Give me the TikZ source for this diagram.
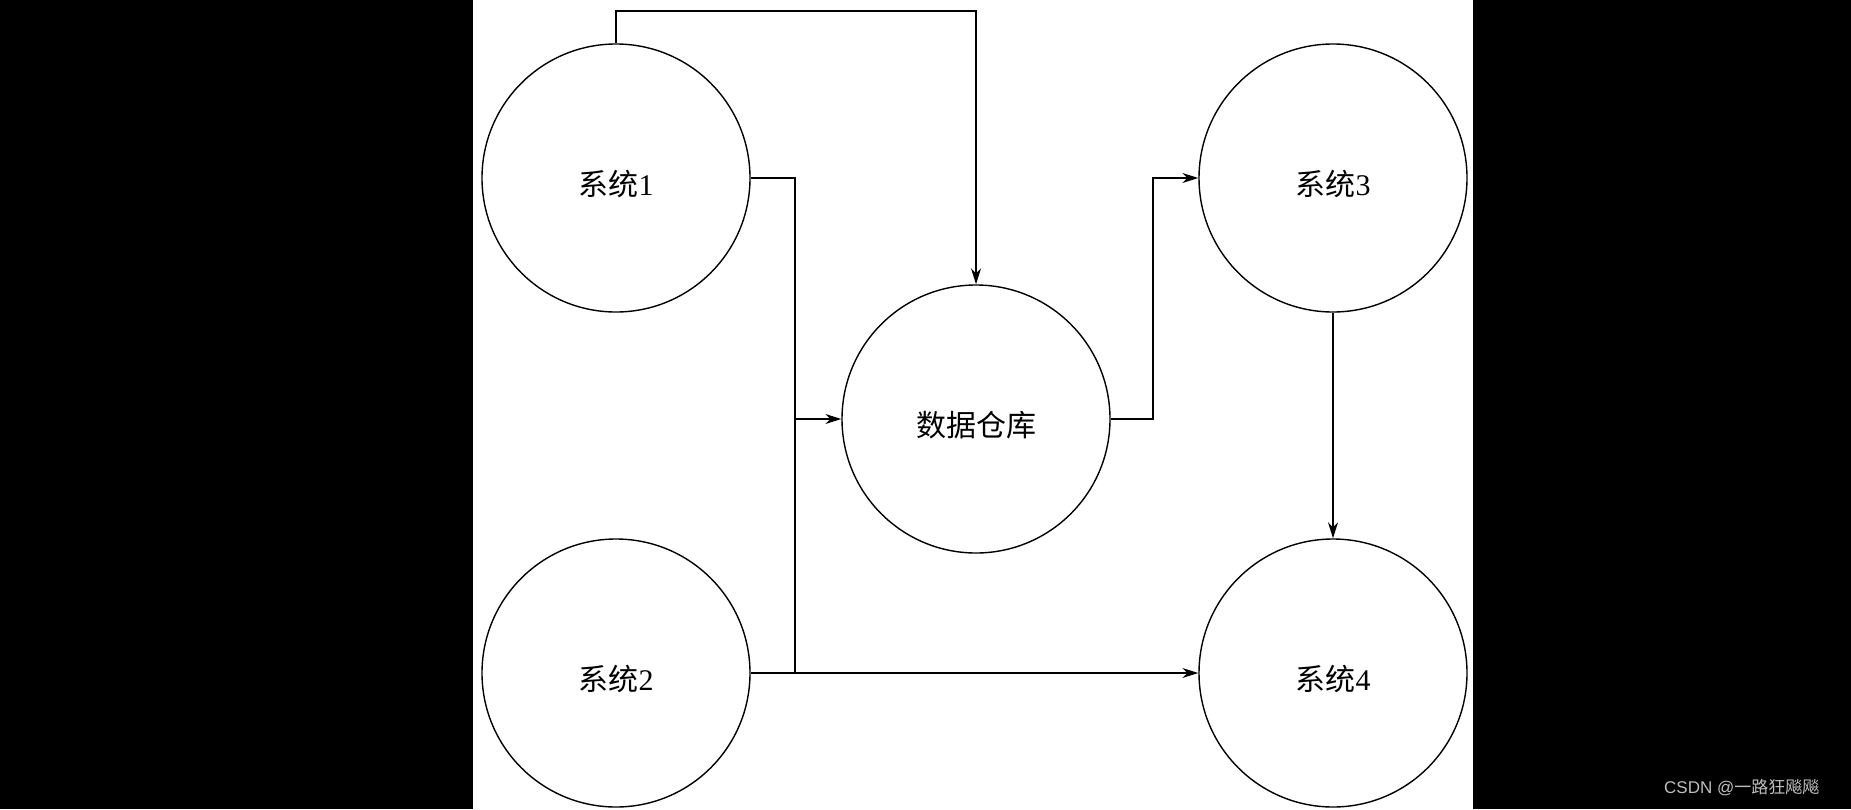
\documentclass[tikz,border=0pt]{standalone}
\usepackage{fontspec}
\setmainfont{Liberation Serif}
\newfontfamily\cjk{Noto Sans CJK SC}
\newfontfamily\wmfont{Liberation Sans}
\usetikzlibrary{arrows.meta}
\definecolor{wmgray}{RGB}{190,190,190}
\tikzset{
  sysnode/.style={circle,draw=black,line width=1.4pt,minimum size=268pt,inner sep=0pt,
    font=\fontsize{30}{33}\selectfont},
  link/.style={line width=1.4pt,draw=black},
  arr/.style={link,-{Stealth[length=16pt,width=10pt,inset=5pt]}}
}
\newcommand{\lowered}[1]{\raisebox{-17pt}[0pt][0pt]{#1}}
\begin{document}
\begin{tikzpicture}[x=1pt,y=-1pt]
\fill[black] (0,0) rectangle (1851,809);
\fill[white] (473,0) rectangle (1473,809);
\useasboundingbox (0,0) rectangle (1851,809);

\node[sysnode] (s1) at (616,178) {\lowered{{\cjk 系统}1}};
\node[sysnode] (s2) at (616,673) {\lowered{{\cjk 系统}2}};
\node[sysnode] (dw) at (976,419) {\lowered{\cjk 数据仓库}};
\node[sysnode] (s3) at (1333,178) {\lowered{{\cjk 系统}3}};
\node[sysnode] (s4) at (1333,673) {\lowered{{\cjk 系统}4}};

\coordinate (t1) at (616,11);
\coordinate (t2) at (976,11);
\coordinate (j1) at (795,419);
\coordinate (j2) at (795,673);
\coordinate (k1) at (1153,419);
\coordinate (k2) at (1153,178);

\draw[arr] (s1.north) -- (t1) -- (t2) -- (dw.north);
\draw[link] (s1.east) -| (j2);
\draw[arr] (j1) -- (dw.west);
\draw[arr] (s2.east) -- (s4.west);
\draw[arr] (dw.east) -- (k1) -- (k2) -- (s3.west);
\draw[arr] (s3.south) -- (s4.north);

\node[anchor=west,text=wmgray,inner sep=0pt,font=\fontsize{17}{20}\selectfont] (wm) at (1664,788) {\wmfont CSDN @{\cjk 一路狂飚飚}};
\end{tikzpicture}
\end{document}
